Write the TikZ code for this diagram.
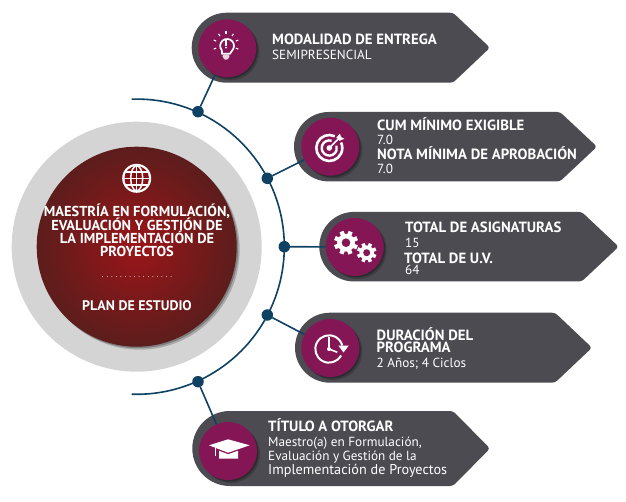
\documentclass[tikz,border=0pt]{standalone}
\usepackage{fontspec}
\setmainfont{PT Sans}
\usetikzlibrary{shadows}
\definecolor{slate}{HTML}{4C4B52}
\definecolor{plum}{HTML}{851655}
\definecolor{navy}{HTML}{0F4163}
\definecolor{wine}{HTML}{9B1519}
\definecolor{winedark}{HTML}{5C1D1C}
\definecolor{ringgrey}{HTML}{D4D4D4}
\definecolor{bulbbase}{HTML}{E8D3DF}
\tikzset{
  softshadow/.style={drop shadow={shadow xshift=1.5pt,shadow yshift=-1.5pt,opacity=.25,fill=black},
                     drop shadow={shadow xshift=3pt,shadow yshift=-3pt,opacity=.2,fill=black}},
  icon/.style={circle,fill=plum,minimum size=58pt,inner sep=0pt,outer sep=0pt,softshadow},
  hub/.style={circle,fill=navy,minimum size=11.5pt,inner sep=0pt,outer sep=0pt},
  link/.style={draw=navy,line width=1.6pt},
  head/.style={anchor=base west,inner sep=0pt,text=white,font=\bfseries\fontsize{14.8}{14.8}\selectfont},
  body/.style={anchor=base west,inner sep=0pt,text=white,font=\fontsize{13.2}{13.2}\selectfont},
  title/.style={anchor=base,inner sep=0pt,text=white,font=\bfseries\fontsize{14.4}{14.4}\selectfont},
}
% left end, middle, half height, shoulder
\newcommand{\pill}[4]{
  \fill[slate] (#1+#3+20,#2+#3) [rounded corners=3pt] -- (#4,#2+#3) -- (#4+37,#2) -- (#4,#2-#3) -- (#1+#3+20,#2-#3) [sharp corners] -- (#1+#3,#2-#3) arc (270:90:#3 pt) -- cycle;
}
\newcommand{\gearwheel}[3]{
  \fill[white] (#1,#2) circle (#3*0.74pt);
  \foreach \a in {0,45,...,315}
    \draw[white,line width=#3*0.36pt] (#1,#2) ++(\a+22:#3*0.6pt) -- ++(\a+22:#3*0.4pt);
  \fill[plum] (#1,#2) circle (#3*0.36pt);
}
\begin{document}
\begin{tikzpicture}[x=1pt,y=1pt]
\useasboundingbox (0,0) rectangle (626,501);
% centre
\node[circle,fill=ringgrey,minimum size=250pt,inner sep=0pt] (ring) at (136.7,254.3) {};
\node[circle,inner color=wine,outer color=winedark,minimum size=200pt,inner sep=0pt,softshadow] (disc) at (ring.center) {};
\draw[link] ([shift={(92:147.6pt)}]ring.center) arc (92:-92:147.6pt);
% pills
\pill{191.7}{453.3}{35}{453}
\pill{294}{354.3}{34.7}{560}
\pill{319.3}{254.3}{34.8}{581.7}
\pill{295}{153.3}{35}{555}
\pill{192.3}{52.5}{37.5}{453}
% circles
\node[icon] (iconA) at (227.3,452.7) {};
\node[icon] (iconB) at (330.3,354.3) {};
\node[icon] (iconC) at (354.7,254) {};
\node[icon] (iconD) at (330.3,153) {};
\node[icon] (iconE) at (228,50) {};
\node[hub] (hubA) at (198,389.3) {};
\node[hub] (hubB) at (267.3,322.7) {};
\node[hub] (hubC) at (284.3,254.3) {};
\node[hub] (hubD) at (267.3,186) {};
\node[hub] (hubE) at (198,119.3) {};
\draw[link] (hubA) -- (iconA);
\draw[link] (hubB) -- (iconB);
\draw[link] (hubC) -- (iconC);
\draw[link] (hubD) -- (iconD);
\draw[link] (hubE) -- (iconE);
% globe
\begin{scope}[shift={(136.7,322.7)}]
\fill[white] (0,0) circle (14.5pt);
\fill[wine!85!black] (0,0) circle (12.3pt);
\draw[white,line width=1.5pt] (0,0) ellipse (6pt and 12.5pt);
\draw[white,line width=1.5pt] (0,-13) -- (0,13);
\draw[white,line width=1.5pt] (-13,0) -- (13,0);
\draw[white,line width=1.5pt] (-11,6.5) -- (11,6.5);
\draw[white,line width=1.5pt] (-11,-6.5) -- (11,-6.5);
\end{scope}
% bulb
\begin{scope}[shift={(iconA.center)}]
\draw[white,line width=1.7pt] (-5.5,-2) arc (220:-40:6.9pt) -- (2.6,-5.5) -- (-5.2,-5.5) -- cycle;
\fill[bulbbase,rounded corners=1.5pt] (-5.2,-6.3) -- (2.6,-6.3) -- (1.6,-10) -- (-0.2,-11.5) -- (-2.4,-11.5) -- (-4.2,-10) -- cycle;
\draw[white,line width=1.6pt] (-1.3,8) -- (-1.3,2.6);
\fill[white] (-1.3,0.6) circle (1pt);
\foreach \a in {-20,20,55,90,125,160,200}
  \draw[white,line width=1.1pt] (-1.3,3.7) ++(\a:10.5pt) -- ++(\a:2.6pt);
\end{scope}
% target
\begin{scope}[shift={(iconB.center)}]
\draw[white,line width=2.6pt] (-1,-1.3) ++(65:13pt) arc (65:385:13pt);
\draw[white,line width=2.4pt] (-1,-1.3) ++(72:7.6pt) arc (72:378:7.6pt);
\fill[white] (-1,-1.3) circle (2.8pt);
\draw[white,line width=1.5pt] (-1,-1.3) -- (8,7.7);
\fill[white] (6,9) -- (8,7.7) -- (9.3,5.8) -- (14,8) -- (11,9.5) -- (9.5,13) -- cycle;
\end{scope}
% gears
\begin{scope}[shift={(iconC.center)}]
\gearwheel{-8.7}{4.3}{12}
\gearwheel{12}{-5.7}{9.8}
\end{scope}
% clock
\begin{scope}[shift={(iconD.center)}]
\draw[white,line width=2pt] (-1.3,-1) ++(-28:13.7pt) arc (-28:-345:13.7pt);
\fill[white] (8,2.5) -- (18.5,2.5) -- (13.2,-4.5) -- cycle;
\draw[white,line width=1.6pt] (-1.3,11) -- (-1.3,-1) -- (7,-4.3);
\fill[white] (-1.3,-1) circle (2pt);
\end{scope}
% cap
\begin{scope}[shift={(iconE.center)}]
\fill[white] (-19,5.7) -- (0,11.7) -- (21.7,5.7) -- (0,-1.7) -- cycle;
\fill[white] (-9,0.2) -- (0,-3.2) -- (10,0.2) -- (10,-7.7) -- (-9,-7.7) -- cycle;
\draw[white,line width=1.1pt] (-12.3,3.5) -- (-12.3,-4.6);
\end{scope}
% texts
\node[title] (lineA) at (137,284.3) {MAESTRÍA EN FORMULACIÓN,};
\node[title] (lineB) at (137,270.7) {EVALUACIÓN Y GESTIÓN DE};
\node[title] (lineC) at (137,257) {LA IMPLEMENTACIÓN DE};
\node[title] (lineD) at (137,244) {PROYECTOS};
\node[anchor=base,inner sep=0pt,text=white,font=\fontsize{8}{8}\selectfont] (dots) at (137,223) {. . . . . . . . . . . . . . . .};
\node[title,font=\bfseries\fontsize{13.9}{13.9}\selectfont] (plan) at (137,190.3) {PLAN DE ESTUDIO};
\node[head] (modalidad) at (272,456.7) {MODALIDAD DE ENTREGA};
\node[body] (semi) at (272,441.7) {SEMIPRESENCIAL};
\node[head] (cum) at (377,370) {CUM MÍNIMO EXIGIBLE};
\node[body] (cumval) at (377,356.7) {7.0};
\node[head] (nota) at (377,341) {NOTA MÍNIMA DE APROBACIÓN};
\node[body] (notaval) at (377,327) {7.0};
\node[head] (asig) at (405,268.3) {TOTAL DE ASIGNATURAS};
\node[body] (asigval) at (405,253.7) {15};
\node[head] (uv) at (404,237.7) {TOTAL DE U.V.};
\node[body] (uvval) at (405,226.3) {64};
\node[head] (dura) at (376.5,160.3) {DURACIÓN DEL};
\node[head] (prog) at (376.5,148.7) {PROGRAMA};
\node[body] (anios) at (376.5,133.3) {2 Años; 4 Ciclos};
\node[head] (titulo) at (268,69.3) {TÍTULO A OTORGAR};
\node[body] (maestro) at (268,55) {Maestro(a) en Formulación,};
\node[body] (evalua) at (268,41) {Evaluación y Gestión de la};
\node[body,font=\fontsize{14.2}{14.2}\selectfont] (implem) at (268,26.7) {Implementación de Proyectos};
\end{tikzpicture}
\end{document}
